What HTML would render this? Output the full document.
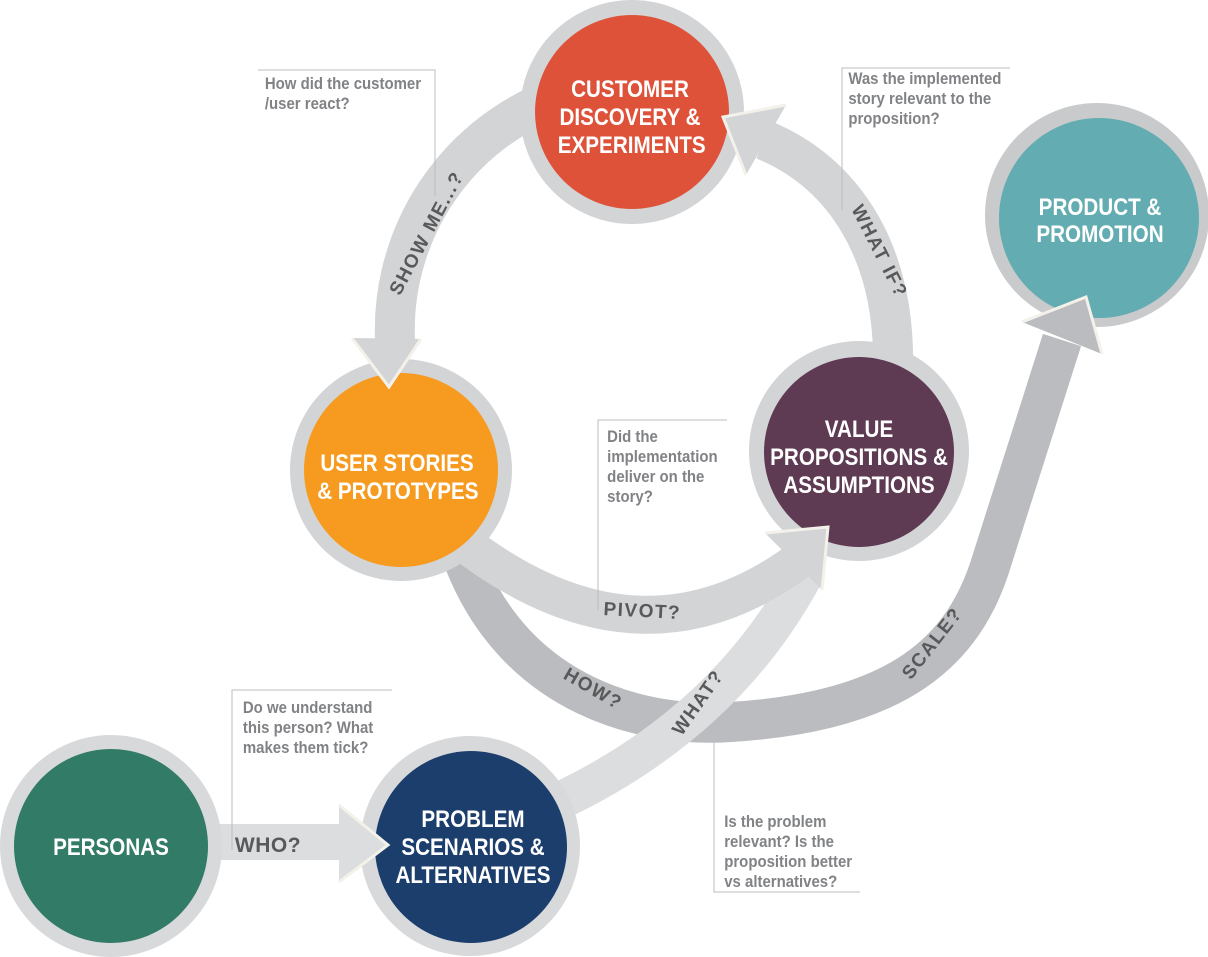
<!DOCTYPE html>
<html><head><meta charset="utf-8"><style>
html,body{margin:0;padding:0;background:#fff;}
svg{display:block;}
.n{font-family:"Liberation Sans Narrow","Liberation Sans",sans-serif;font-weight:bold;fill:#fff;font-size:24px;text-anchor:middle;}
.q{font-family:"Liberation Sans Narrow","Liberation Sans",sans-serif;font-weight:bold;fill:#808285;font-size:17px;}
.a{font-family:"Liberation Sans","Liberation Sans Narrow",sans-serif;font-weight:bold;fill:#58595b;font-size:19px;letter-spacing:1.5px;text-anchor:middle;}
.ln{stroke:#bcbcbc;stroke-width:1;fill:none;}
</style></head><body>
<svg width="1208" height="957" viewBox="0 0 1208 957" xmlns="http://www.w3.org/2000/svg">
<!-- bands -->
<path d="M 462 556 C 515 700 650 728 730 722 C 900 712 965 650 992 560 L 1062 340" fill="none" stroke="#bbbcbf" stroke-width="40"/>
<path d="M 540 810 Q 722 730 806 572" fill="none" stroke="#dcdddf" stroke-width="38"/>
<path d="M 460 540 Q 640 680 802 558" fill="none" stroke="#d3d4d6" stroke-width="38"/>
<path d="M 580 90 A 248 248 0 0 0 395 340" fill="none" stroke="#d3d4d6" stroke-width="40"/>
<path d="M 893 370 C 896 250 842 172 764 140" fill="none" stroke="#d3d4d6" stroke-width="40"/>
<rect x="200" y="824" width="142" height="36" fill="#dcdddf"/>

<!-- circles -->
<circle cx="632" cy="112" r="112" fill="#d3d4d6"/><circle cx="632" cy="112" r="97" fill="#de523a"/>
<circle cx="1097" cy="215" r="112" fill="#c9cacc"/><circle cx="1099" cy="218" r="100" fill="#63acb1"/>
<circle cx="401" cy="470" r="111" fill="#d3d4d6"/><circle cx="401" cy="470" r="97" fill="#f69b1f"/>
<circle cx="859" cy="451" r="110" fill="#d3d4d6"/><circle cx="859" cy="452" r="95" fill="#5e3a53"/>
<circle cx="111" cy="846" r="111" fill="#d8d9db"/><circle cx="111" cy="846" r="97" fill="#327b66"/>
<circle cx="470" cy="846" r="110" fill="#d8d9db"/><circle cx="471" cy="847" r="96" fill="#1c3e6d"/>

<!-- arrowheads -->
<polygon points="1022,322 1086,297 1102,354" fill="#bbbcbf"/>
<polyline points="1022,322 1086,297 1102,354" fill="none" stroke="#f3f1ea" stroke-width="3"/>
<polygon points="765,533 828,527 822,590" fill="#d3d4d6"/>
<polyline points="765,533 828,527 822,590" fill="none" stroke="#f3f1ea" stroke-width="3"/>
<polygon points="352,338 421,339 389,387" fill="#d3d4d6"/>
<polyline points="352,338 389,387 421,339" fill="none" stroke="#f3f1ea" stroke-width="3"/>
<polygon points="723,117 786,105 746,175" fill="#d3d4d6"/>
<polyline points="786,105 723,117 746,175" fill="none" stroke="#f3f1ea" stroke-width="3"/>
<polygon points="339,805 388,845 339,882" fill="#dcdddf"/>
<polyline points="339,805 388,845 339,882" fill="none" stroke="#f3f1ea" stroke-width="3"/>

<!-- annotation lines -->
<polyline class="ln" points="258,70 435,70 435,196"/>
<polyline class="ln" points="1010,68 842,68 842,210"/>
<polyline class="ln" points="727,420 598,420 598,610"/>
<polyline class="ln" points="392,690 232,690 232,850"/>
<polyline class="ln" points="714,730 714,892 860,892"/>

<!-- node labels -->
<g transform="translate(630,0) scale(0.86,1)"><text class="n" x="0" y="97">CUSTOMER</text><text class="n" x="0" y="125">DISCOVERY &amp;</text><text class="n" x="2" y="153">EXPERIMENTS</text></g>
<g transform="translate(1100,0) scale(0.86,1)"><text class="n" x="0" y="215">PRODUCT &amp;</text><text class="n" x="0" y="242">PROMOTION</text></g>
<g transform="translate(397,0) scale(0.86,1)"><text class="n" x="0" y="471">USER STORIES</text><text class="n" x="1" y="499">&amp; PROTOTYPES</text></g>
<g transform="translate(859,0) scale(0.86,1)"><text class="n" x="0" y="437">VALUE</text><text class="n" x="0" y="465">PROPOSITIONS &amp;</text><text class="n" x="0" y="493">ASSUMPTIONS</text></g>
<g transform="translate(111,0) scale(0.86,1)"><text class="n" x="0" y="855">PERSONAS</text></g>
<g transform="translate(473,0) scale(0.86,1)"><text class="n" x="0" y="827">PROBLEM</text><text class="n" x="0" y="855">SCENARIOS &amp;</text><text class="n" x="0" y="883">ALTERNATIVES</text></g>

<!-- questions -->
<g transform="scale(0.88,1)">
<text class="q" x="301" y="89">How did the customer</text>
<text class="q" x="301" y="109">/user react?</text>
<text class="q" x="964" y="84">Was the implemented</text>
<text class="q" x="964" y="104">story relevant to the</text>
<text class="q" x="964" y="124">proposition?</text>
<text class="q" x="690" y="442">Did the</text>
<text class="q" x="690" y="462">implementation</text>
<text class="q" x="690" y="482">deliver on the</text>
<text class="q" x="690" y="502">story?</text>
<text class="q" x="276" y="713">Do we understand</text>
<text class="q" x="276" y="733">this person? What</text>
<text class="q" x="276" y="753">makes them tick?</text>
<text class="q" x="823" y="827">Is the problem</text>
<text class="q" x="823" y="847">relevant? Is the</text>
<text class="q" x="823" y="867">proposition better</text>
<text class="q" x="823" y="887">vs alternatives?</text>
</g>

<!-- arrow labels -->
<text class="a" transform="translate(432,236) rotate(-62)">SHOW ME...?</text>
<text class="a" transform="translate(874,254) rotate(63)">WHAT IF?</text>
<text class="a" transform="translate(642,617) rotate(3)">PIVOT?</text>
<text class="a" transform="translate(590,694) rotate(30)">HOW?</text>
<text class="a" transform="translate(703,706) rotate(-55)">WHAT?</text>
<text class="a" transform="translate(937,647) rotate(-52)">SCALE?</text>
<text class="a" x="268" y="852" style="font-size:21px;letter-spacing:0.5px">WHO?</text>
</svg>
</body></html>
